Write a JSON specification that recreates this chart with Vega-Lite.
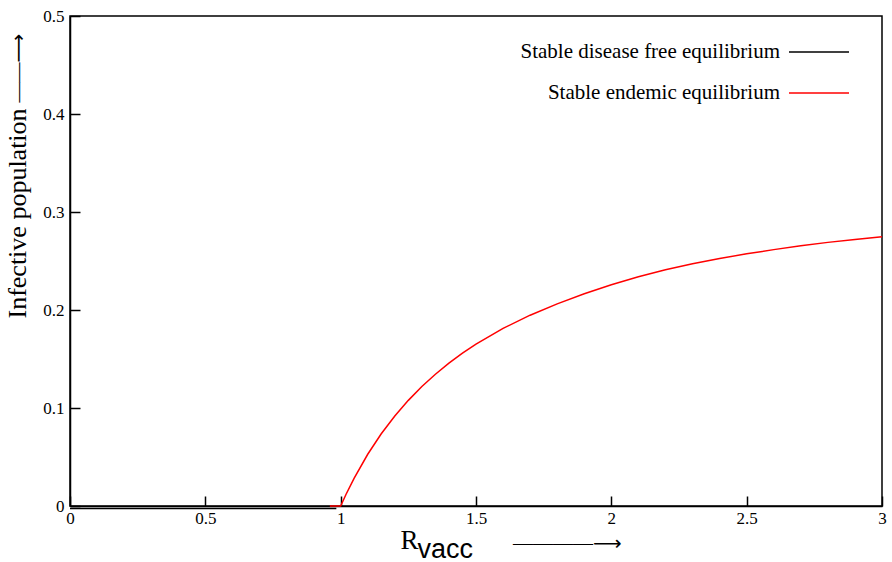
{
  "$schema": "https://vega.github.io/schema/vega-lite/v6.json",
  "width": 812,
  "height": 490,
  "autosize": {"type": "none"},
  "padding": {"left": 70, "top": 16, "right": 10, "bottom": 56},
  "background": "white",
  "title": {
    "text": "\u2014\u2014\u2014\u2014\u27f6",
    "orient": "bottom", "anchor": "start", "frame": "group",
    "font": "Liberation Serif, DejaVu Sans", "fontSize": 20, "fontWeight": "normal", "color": "black",
    "baseline": "alphabetic", "offset": 0, "dx": 443, "dy": -12
  },
  "config": {
    "font": "Liberation Serif",
    "view": {"stroke": "black", "strokeWidth": 1.5},
    "axis": {"grid": false}
  },
  "data": {
    "values": [
      {"x": 0, "y": -0.0026, "s": "Stable disease free equilibrium"},
      {"x": 0.984, "y": -0.0026, "s": "Stable disease free equilibrium"},
      {"x": 0.96, "y": 0, "s": "Stable endemic equilibrium"},
      {"x": 1.0, "y": 0, "s": "Stable endemic equilibrium"},
      {"x": 1.02, "y": 0.012, "s": "Stable endemic equilibrium"},
      {"x": 1.05, "y": 0.0285, "s": "Stable endemic equilibrium"},
      {"x": 1.1, "y": 0.0528, "s": "Stable endemic equilibrium"},
      {"x": 1.15, "y": 0.0737, "s": "Stable endemic equilibrium"},
      {"x": 1.2, "y": 0.0918, "s": "Stable endemic equilibrium"},
      {"x": 1.25, "y": 0.1078, "s": "Stable endemic equilibrium"},
      {"x": 1.3, "y": 0.1219, "s": "Stable endemic equilibrium"},
      {"x": 1.35, "y": 0.1344, "s": "Stable endemic equilibrium"},
      {"x": 1.4, "y": 0.1457, "s": "Stable endemic equilibrium"},
      {"x": 1.45, "y": 0.1559, "s": "Stable endemic equilibrium"},
      {"x": 1.5, "y": 0.1651, "s": "Stable endemic equilibrium"},
      {"x": 1.6, "y": 0.1812, "s": "Stable endemic equilibrium"},
      {"x": 1.7, "y": 0.1947, "s": "Stable endemic equilibrium"},
      {"x": 1.8, "y": 0.2063, "s": "Stable endemic equilibrium"},
      {"x": 1.9, "y": 0.2165, "s": "Stable endemic equilibrium"},
      {"x": 2.0, "y": 0.2257, "s": "Stable endemic equilibrium"},
      {"x": 2.1, "y": 0.2339, "s": "Stable endemic equilibrium"},
      {"x": 2.2, "y": 0.2410, "s": "Stable endemic equilibrium"},
      {"x": 2.3, "y": 0.2471, "s": "Stable endemic equilibrium"},
      {"x": 2.4, "y": 0.2525, "s": "Stable endemic equilibrium"},
      {"x": 2.5, "y": 0.2573, "s": "Stable endemic equilibrium"},
      {"x": 2.6, "y": 0.2616, "s": "Stable endemic equilibrium"},
      {"x": 2.7, "y": 0.2655, "s": "Stable endemic equilibrium"},
      {"x": 2.8, "y": 0.2690, "s": "Stable endemic equilibrium"},
      {"x": 2.9, "y": 0.2719, "s": "Stable endemic equilibrium"},
      {"x": 3.0, "y": 0.2747, "s": "Stable endemic equilibrium"}
    ]
  },
  "layer": [
    {
      "transform": [{"filter": "datum.s === 'Stable disease free equilibrium'"}],
      "mark": {"type": "line", "strokeWidth": 1.5},
      "encoding": {
        "x": {
          "field": "x", "type": "quantitative",
          "scale": {"domain": [0, 3], "nice": false, "zero": false},
          "axis": {
            "orient": "bottom",
            "values": [0, 0.5, 1, 1.5, 2, 2.5, 3],
            "format": "~g",
            "tickSize": -10, "tickColor": "black", "tickWidth": 1.5,
            "domainColor": "black", "domainWidth": 1.5,
            "labelFont": "Liberation Serif", "labelFontSize": 17, "labelColor": "black",
            "labelPadding": 14, "labelFlush": false, "labelOverlap": false,
            "title": "R",
            "titleFont": "Liberation Serif", "titleFontSize": 27, "titleFontWeight": "normal",
            "titleColor": "black", "titleX": 330, "titleY": 42,
            "titleAlign": "left", "titleBaseline": "alphabetic"
          }
        },
        "y": {
          "field": "y", "type": "quantitative",
          "scale": {"domain": [0, 0.5], "nice": false, "zero": false},
          "axis": {
            "orient": "left",
            "values": [0, 0.1, 0.2, 0.3, 0.4, 0.5],
            "format": "~g",
            "tickSize": -10, "tickColor": "black", "tickWidth": 1.5,
            "domainColor": "black", "domainWidth": 1.5,
            "labelFont": "Liberation Serif", "labelFontSize": 17, "labelColor": "black",
            "labelPadding": 16, "labelFlush": false, "labelOverlap": false,
            "title": "Infective population",
            "titleFont": "Liberation Serif", "titleFontSize": 26, "titleFontWeight": "normal",
            "titleColor": "black", "titleAngle": 270, "titleX": -45, "titleY": 302,
            "titleAlign": "left", "titleBaseline": "alphabetic"
          }
        },
        "color": {
          "field": "s", "type": "nominal",
          "scale": {"domain": ["Stable disease free equilibrium", "Stable endemic equilibrium"], "range": ["black", "red"]},
          "legend": {
            "orient": "none", "legendX": 718, "legendY": 5, "title": null,
            "labelAlign": "right", "labelOffset": -70,
            "symbolType": "stroke", "symbolSize": 3600, "symbolStrokeWidth": 1.5,
            "labelFont": "Liberation Serif", "labelFontSize": 21, "labelColor": "black",
            "rowPadding": -18, "padding": 0, "labelLimit": 0
          }
        }
      }
    },
    {
      "transform": [{"filter": "datum.s === 'Stable endemic equilibrium'"}],
      "mark": {"type": "line", "strokeWidth": 1.5},
      "encoding": {
        "x": {
          "field": "x", "type": "quantitative",
          "scale": {"domain": [0, 3], "nice": false, "zero": false},
          "axis": {
            "orient": "bottom",
            "labels": false, "ticks": false, "domain": false, "grid": false,
            "title": "vacc",
            "titleFont": "Liberation Sans", "titleFontSize": 27, "titleFontWeight": "normal",
            "titleColor": "black", "titleX": 347, "titleY": 51,
            "titleAlign": "left", "titleBaseline": "alphabetic"
          }
        },
        "y": {
          "field": "y", "type": "quantitative",
          "scale": {"domain": [0, 0.5], "nice": false, "zero": false},
          "axis": {
            "orient": "left",
            "labels": false, "ticks": false, "domain": false, "grid": false,
            "title": "\u2014\u2014\u27f6",
            "titleFont": "Liberation Serif, DejaVu Sans", "titleFontSize": 20, "titleFontWeight": "normal",
            "titleColor": "black", "titleAngle": 270, "titleX": -46, "titleY": 86,
            "titleAlign": "left", "titleBaseline": "alphabetic"
          }
        },
        "color": {
          "field": "s", "type": "nominal",
          "scale": {"domain": ["Stable disease free equilibrium", "Stable endemic equilibrium"], "range": ["black", "red"]}
        }
      }
    }
  ],
  "resolve": {"axis": {"x": "independent", "y": "independent"}}
}
